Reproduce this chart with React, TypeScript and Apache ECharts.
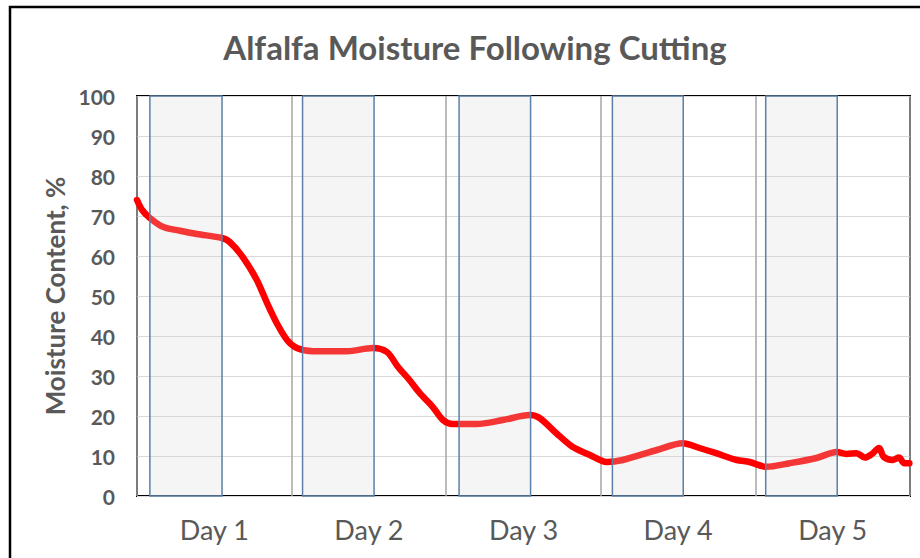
import React, { useEffect, useRef } from "react";
import * as echarts from "echarts";

const TITLE = "Alfalfa Moisture Following Cutting";
const Y_NAME = "Moisture Content, %";
const DAY_LABELS = ["Day 1", "Day 2", "Day 3", "Day 4", "Day 5"];

// hours since cutting
const hours = [
  0, 0.8, 2, 4, 6.7, 9.3, 13.2, 14.4, 16.4, 18.6, 20.2, 21.7, 23.3, 24.8, 27.3,
  32.6, 36.6, 38.8, 40.5, 42.3, 43.9, 45.9, 47.5, 49, 52.7, 56.8, 61, 62.5,
  65.1, 67.6, 70.3, 72.9, 75.4, 80.7, 84.7, 87.3, 89.9, 93.1, 95.1, 97.7,
  101.3, 105.5, 108.6, 110.1, 111.7, 113, 114, 115.2, 115.9, 117.3, 118.3,
  119.1, 119.9,
];
const moisture = [
  74, 71.5, 69.5, 67.3, 66.3, 65.5, 64.5, 63.5, 59.8, 54, 48.2, 43.2, 39, 37,
  36.2, 36.2, 37, 36, 32.3, 29, 25.7, 22.3, 19, 18, 18, 19, 20.25, 19.5, 15.7,
  12.3, 10.25, 8.5, 9, 11.5, 13.2, 12, 10.7, 9, 8.5, 7.3, 8.2, 9.5, 11, 10.5,
  10.7, 9.6, 10.4, 12, 9.8, 9, 9.6, 8.2, 8.2,
];

// daylight (shaded) intervals in hours
const shadeStart = [2.0, 25.7, 50.0, 73.8, 97.6];
const shadeEnd = [13.2, 36.8, 61.1, 84.8, 108.7];

const FONT = "Lato, 'Open Sans', sans-serif";
const TEXT = "#595959";

export default function App() {
  const ref = useRef<HTMLDivElement>(null);
  useEffect(() => {
    if (!ref.current) return;
    const chart = echarts.init(ref.current, undefined, { renderer: "svg" });
    const lineData = hours.map((h, i) => [h, moisture[i]]);
    const areas = shadeStart.map((s, i) => [{ xAxis: s }, { xAxis: shadeEnd[i] }]);
    chart.setOption({
      animation: false,
      backgroundColor: "#ffffff",
      title: {
        text: TITLE,
        left: 470,
        top: 25,
        textAlign: "center",
        textStyle: { fontFamily: FONT, fontWeight: "bold", fontSize: 33, color: TEXT },
      },
      graphic: [
        {
          type: "rect",
          shape: { x: 10, y: 7, width: 1000, height: 1000 },
          style: { fill: "none", stroke: "#000", lineWidth: 2.5 },
          silent: true,
        },
      ],
      grid: {
        left: 137,
        top: 96,
        right: 10,
        bottom: 62,
        show: true,
        borderColor: "#000",
        borderWidth: 2,
        backgroundColor: "transparent",
      },
      xAxis: [
        {
          type: "value",
          min: 0,
          max: 120,
          interval: 24,
          axisLine: { show: false },
          axisTick: { show: false },
          axisLabel: { show: false },
          splitLine: { show: true, lineStyle: { color: "#a6a6a6", width: 1.5 } },
        },
        {
          type: "value",
          position: "bottom",
          min: 0,
          max: 120,
          interval: 12,
          axisLine: { show: false },
          axisTick: { show: false },
          splitLine: { show: false },
          axisLabel: {
            margin: 20,
            fontFamily: FONT,
            fontSize: 27,
            color: TEXT,
            formatter: (v: number) =>
              v % 24 === 12 ? DAY_LABELS[Math.floor(v / 24)] : "",
          },
        },
      ],
      yAxis: {
        type: "value",
        min: 0,
        max: 100,
        interval: 10,
        name: Y_NAME,
        nameLocation: "middle",
        nameGap: 68,
        nameTextStyle: { fontFamily: FONT, fontWeight: "bold", fontSize: 26, color: TEXT },
        axisLine: { show: false },
        axisTick: { show: false },
        axisLabel: { margin: 22, fontFamily: FONT, fontWeight: "bold", fontSize: 21, color: TEXT },
        splitLine: { lineStyle: { color: "#d9d9d9", width: 1 } },
      },
      series: [
        {
          type: "line",
          xAxisIndex: 0,
          data: lineData,
          smooth: 0.3,
          showSymbol: false,
          symbol: "none",
          lineStyle: { color: "#ff0000", width: 6.5, cap: "round", join: "round" },
          z: 2,
        },
        {
          type: "line",
          xAxisIndex: 0,
          data: lineData,
          showSymbol: false,
          symbol: "none",
          lineStyle: { opacity: 0, width: 0 },
          silent: true,
          z: 5,
          markArea: {
            silent: true,
            z: 10,
            itemStyle: {
              color: "rgba(215,215,215,0.25)",
              borderColor: "#5b7fa8",
              borderWidth: 1.5,
            },
            data: areas,
          },
        },
      ],
    });
    return () => chart.dispose();
  }, []);
  return (
    <div
      ref={ref}
      style={{ position: "absolute", left: 0, top: 0, width: 920, height: 558 }}
    />
  );
}
